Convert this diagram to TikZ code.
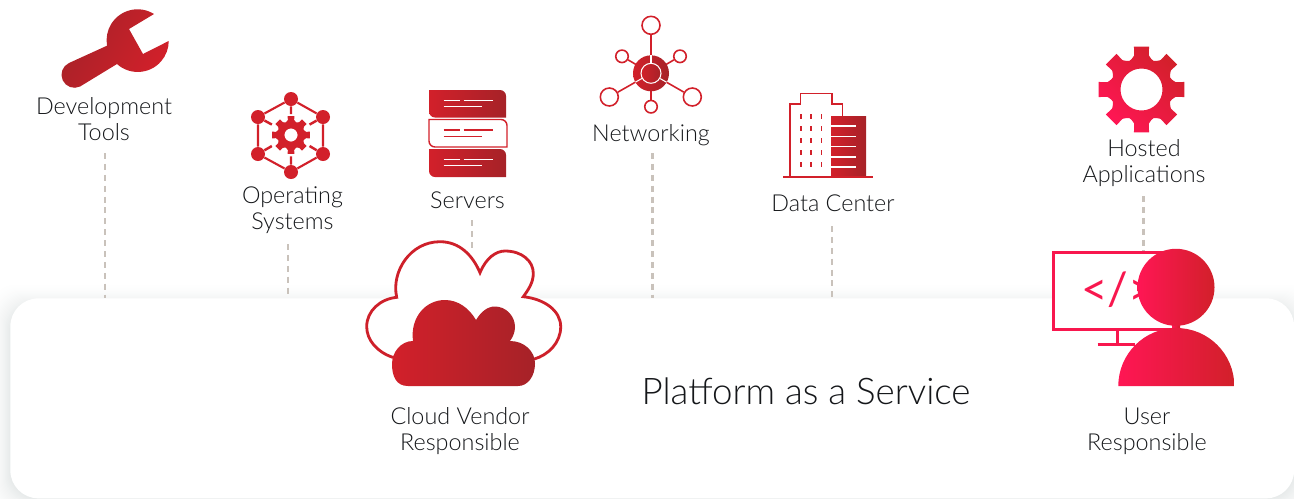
\documentclass[tikz,border=0pt]{standalone}
\usepackage{fontspec}
\setmainfont[UprightFont=* Light]{Lato}
\newfontfamily\codefont{Lato}
\usetikzlibrary{calc}
\definecolor{cfred}{HTML}{D2202A}
\definecolor{cfdark}{HTML}{A62228}
\definecolor{cfpink}{HTML}{FF1654}
\definecolor{cfdash}{HTML}{C9C2BB}
\definecolor{cfink}{HTML}{15171A}
\definecolor{cfband}{HTML}{E6E9E9}
\tikzset{
  label/.style={align=center,text=cfink,font=\fontsize{13.3}{14.8}\selectfont,inner sep=0pt},
  droplink/.style={cfdash,line width=1.6pt,dash pattern=on 3.4pt off 2.8pt},
  redfade/.style={left color=cfred,right color=cfdark},
  pinkfade/.style={left color=cfpink,right color=cfred},
  osdot/.style={circle,fill=cfred,minimum size=0.28cm,inner sep=0pt},
  sat/.style={circle,draw=cfred,fill=white,line width=0.9pt,inner sep=0pt},
}
% tooth ring of a gear, radius 43.5 before scaling
\newcommand{\gearicon}[5]{%
  \shade[shift={(#1,#2)},scale=#3,even odd rule,#4]
    (-10:43.5)
    \foreach \a in {0,45,...,315} {
      -- ({\a-10}:43.5) -- ({\a+10}:43.5) -- ({\a+12}:35)
      .. controls ({\a+22.5}:30) .. ({\a+33}:35)
    } -- cycle
    (0,0) circle (#5);
}
% one server slab: x0 y0 x1 y1
\newcommand{\slabpath}[4]{(#1,#2) -- (#3-6,#2) arc (90:0:6) -- (#3,#4) -- (#1+6,#4) arc (270:180:6) -- cycle}
\newcommand{\slabtext}[2]{%
  \draw[#2,line width=0.7pt] (443.5,#1) -- (460,#1) (463.5,#1) -- (493,#1) (443.5,#1-6.5) -- (481.5,#1-6.5);
}
\begin{document}
\begin{tikzpicture}[x=0.02cm,y=0.02cm]
\useasboundingbox (0,-498) rectangle (1294,0);
% soft edge round the panel
\foreach \k in {24,23,...,1}
  \fill[cfband!\fpeval{(25-\k)*(25-\k)/6.3}!white,rounded corners=0.56cm] (10-\k,-306+\k) rectangle (1294+\k,-498-\k);
\node[fill=white,rounded corners=0.56cm,minimum width=25.68cm,minimum height=4cm,inner sep=0pt,anchor=north west] (panel) at (10,-298) {};
% dashed drop lines
\coordinate (d1) at (105,-153);
\coordinate (d2) at (288,-244);
\coordinate (d3) at (472,-220);
\coordinate (d4) at (652.5,-153);
\coordinate (d5) at (832,-226);
\coordinate (d6) at (1143.5,-196);
\coordinate (e3) at (472,-250);
\coordinate (e6) at (1143.5,-252);
\foreach \n in {1,2,4,5} \draw[droplink] (d\n) -- (d\n |- panel.north);
\draw[droplink] (d3) -- (e3);
\draw[droplink] (d6) -- (e6);
% wrench
\shade[left color=cfdark,right color=cfred,shading angle=60] (154,-14) arc (58:190:31) -- (69,-63) arc (115:295:13) -- (117,-64) arc (228:360:31) -- (143,-54) -- (129,-29) -- cycle;
\node[label] (devtools) at (104,-119) {Development\\Tools};
% operating systems
\foreach \n/\x/\y in {a/291/99,b/323/117,c/323/154,d/291/172,e/258/154,f/258/117}
  \node[osdot] (os\n) at (\x,-\y) {};
\coordinate (oscentre) at (291,-135);
\draw[cfred,line width=1.2pt] (osa) -- (osb) -- (osc) -- (osd) -- (ose) -- (osf) -- (osa);
\foreach \n in {a,b,c,d,e,f} \draw[cfred,line width=1.4pt] (os\n) -- ($(os\n)!0.42!(oscentre)$);
\gearicon{291}{-135}{0.44}{left color=cfred,right color=cfred}{15}
\node[label] (opsys) at (292.5,-210) {Operating\\Systems};
% servers
\shade[redfade] \slabpath{429}{-90}{506}{-117.5};
\draw[cfred,line width=0.8pt] \slabpath{429}{-119.5}{507}{-147};
\shade[redfade] \slabpath{429}{-149}{506}{-177};
\slabtext{-100.3}{white}
\slabtext{-130}{cfred}
\slabtext{-159.3}{white}
\node[label] (servers) at (467.5,-200) {Servers};
% networking
\coordinate (hubpos) at (651,-73.3);
\foreach \n/\x/\y/\s in {t/651/25.3/0.36,ul/622/56.3/0.25,ur/680/56.3/0.25,ll/609.3/97/0.36,lr/692.3/97/0.36,b/651/106.7/0.25}
  \node[sat,minimum size=\s cm] (sat\n) at (\x,-\y) {};
\foreach \n in {t,ul,ur,ll,lr,b} \draw[cfred,line width=0.9pt] (hubpos) -- (sat\n);
\node[circle,redfade,minimum size=0.72cm,inner sep=0pt] (hub) at (hubpos) {};
\node[circle,draw=white,redfade,line width=0.6pt,minimum size=0.4cm,inner sep=0pt] (hubcore) at (hubpos) {};
\foreach \n in {t,ll,lr} \draw[white,line width=0.6pt] (hubcore) -- ($(hubpos)!0.36cm!(sat\n)$);
\node[label] (network) at (651,-135) {Networking};
% data center
\draw[cfred,line width=0.8pt] (790,-177) -- (790,-104) -- (800.7,-104) -- (800.7,-93.3) -- (832,-93.3) -- (832,-104) -- (842.7,-104) -- (842.7,-116);
\shade[redfade] (831,-116) rectangle (866,-177);
\draw[cfred,line width=1.1pt] (783,-177.3) -- (873,-177.3);
\foreach \y in {126,136.3,146.7,157,167} \draw[white,line width=0.7pt] (831,-\y) -- (856.3,-\y);
\foreach \y in {116,128,140,152,164} \foreach \x in {800.7,811,821.3}
  \draw[cfred,line width=0.9pt] (\x,-\y-2.5) -- (\x,-\y+2.5);
\node[label] (datacenter) at (833,-203) {Data Center};
% hosted applications
\gearicon{1141.5}{-89.5}{1}{left color=cfpink,right color=cfred,shading angle=135}{21}
\node[label] (hosted) at (1144,-163) {Hosted\\Applications};
% cloud
\draw[cfred!90!cfdark,fill=white,line width=1.6pt] (392.7,-357.3) .. controls (377,-352) and (366.7,-340) .. (366.7,-326.7) .. controls (366.7,-311) and (380,-299) .. (396.7,-297.3)
  .. controls (391,-272) and (410,-241.7) .. (440,-241.7) .. controls (460,-241.7) and (473,-256) .. (480,-272.7)
  .. controls (486,-258) and (496,-251) .. (505,-251) .. controls (522,-251) and (533.3,-261) .. (533.3,-273.3) .. controls (533.3,-283) and (528,-290) .. (523.3,-296.7)
  .. controls (545,-299) and (560.7,-311) .. (560.7,-326.7) .. controls (560.7,-343) and (548,-355) .. (534.3,-359) -- cycle;
\shade[redfade] (408,-386) .. controls (396,-386) and (392,-376) .. (392,-364) .. controls (392,-352) and (401,-341) .. (413,-341)
  .. controls (410,-318) and (425,-300) .. (445,-300) .. controls (458,-300) and (469,-308) .. (476,-320)
  .. controls (481,-312) and (487,-306.5) .. (495,-306.5) .. controls (506,-306.5) and (515,-316) .. (515,-327) .. controls (515,-332) and (513,-337) .. (510,-341)
  .. controls (524,-341) and (535,-351) .. (535,-363.5) .. controls (535,-376) and (528,-386) .. (518,-386) -- cycle;
\node[label] (vendor) at (460,-431) {Cloud Vendor\\Responsible};
% panel title
\node[label,font=\fontsize{20.9}{22}\selectfont] (title) at (806,-391) {Platform as a Service};
% user and monitor
\draw[cfpink!85!cfred,fill=white,line width=1.7pt] (1053.3,-252.7) rectangle (1175,-329.3);
\draw[cfpink!85!cfred,line width=1.7pt] (1117,-330) -- (1117,-344.3) (1097.7,-344.3) -- (1135,-344.3);
\node[text=cfpink!85!cfred,font=\codefont\fontsize{26}{26}\selectfont,inner sep=0pt] (code) at (1118,-290) {</>};
\shade[pinkfade] (1172,-320) rectangle (1180,-332);
\shade[pinkfade] (1176,-287.3) circle (38.5);
\shade[pinkfade] (1118.3,-386) arc (180:0:58) -- cycle;
\node[label] (user) at (1147,-431) {User\\Responsible};
\end{tikzpicture}
\end{document}
